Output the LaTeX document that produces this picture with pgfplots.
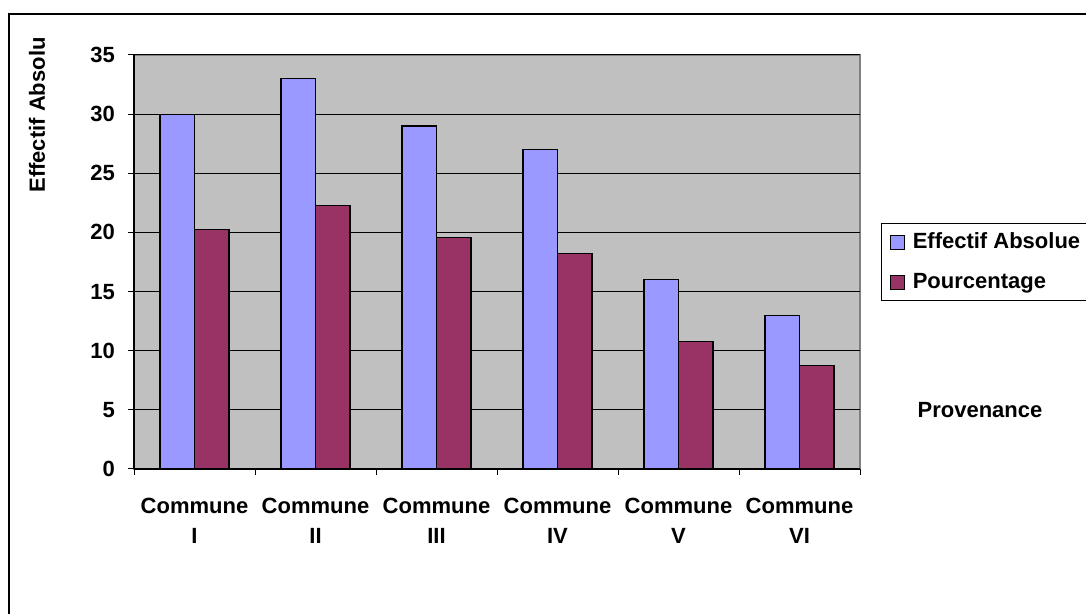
\documentclass[border=0pt]{standalone}
\usepackage{fontspec}
\setmainfont{Liberation Sans}
\usepackage{pgfplots}
\pgfplotsset{compat=1.18}
\definecolor{barblue}{HTML}{9999FF}
\definecolor{barplum}{HTML}{993366}
\definecolor{plotgray}{HTML}{C0C0C0}
\pgfplotsset{
    sqlegend/.style={legend image code/.code={
        \draw[##1, draw=black, line width=0.5pt] (0.5pt,-3.5pt) rectangle (7.5pt,3.5pt);
        \path (9.5pt,0pt);}},
}
\begin{document}
\begin{tikzpicture}
\useasboundingbox (0,0) rectangle (543pt,307pt);
% outer chart frame (right and bottom edges fall outside the page)
\draw[line width=1pt] (4.5pt,-10pt) -- (4.5pt,300pt) -- (560pt,300pt);
\begin{axis}[
    at={(67pt,72.5pt)}, anchor=south west,
    scale only axis, width=363pt, height=207pt,
    ybar=0pt, bar width=17.25pt,
    xmin=-0.5, xmax=5.5, ymin=0, ymax=35,
    xtick={-0.5,0.5,...,5.5}, xticklabels={},
    extra x ticks={0,1,2,3,4,5},
    extra x tick labels={{Commune\\I},{Commune\\II},{Commune\\III},{Commune\\IV},{Commune\\V},{Commune\\VI}},
    extra x tick style={major tick length=0pt, grid=none,
        xticklabel style={align=center, yshift=-11pt}},
    ytick={0,5,...,35},
    yticklabel style={xshift=-3pt},
    tick align=outside, major tick length=3pt,
    tick style={black, line width=0.5pt},
    ymajorgrids, grid style={black, line width=0.5pt},
    axis x line*=bottom, axis y line*=left,
    axis line style={-, black, line width=0.6pt},
    axis background/.style={fill=plotgray, draw=gray, line width=0.6pt},
    font=\bfseries\fontsize{11}{15}\selectfont,
    /pgf/number format/assume math mode=true,
    legend style={at={(1.029,0.594)}, anchor=north west, draw=black,
        line width=0.6pt, row sep=7pt, inner xsep=4pt, inner ysep=2.5pt,
        font=\bfseries\fontsize{11}{13}\selectfont},
    legend cell align=left,
]
\addplot[fill=barblue, draw=black, line width=0.6pt, sqlegend] coordinates {
    (0,30) (1,33) (2,29) (3,27) (4,16) (5,13)
};
\addlegendentry{Effectif Absolue}
\addplot[fill=barplum, draw=black, line width=0.6pt, sqlegend] coordinates {
    (0,20.27) (1,22.30) (2,19.59) (3,18.24) (4,10.81) (5,8.78)
};
\addlegendentry{Pourcentage}
\end{axis}
\node[font=\bfseries\fontsize{11}{13}\selectfont, rotate=90] at (18.5pt,249.5pt) {Effectif Absolu};
\node[font=\bfseries\fontsize{11}{13}\selectfont] at (490pt,102pt) {Provenance};
\end{tikzpicture}
\end{document}
